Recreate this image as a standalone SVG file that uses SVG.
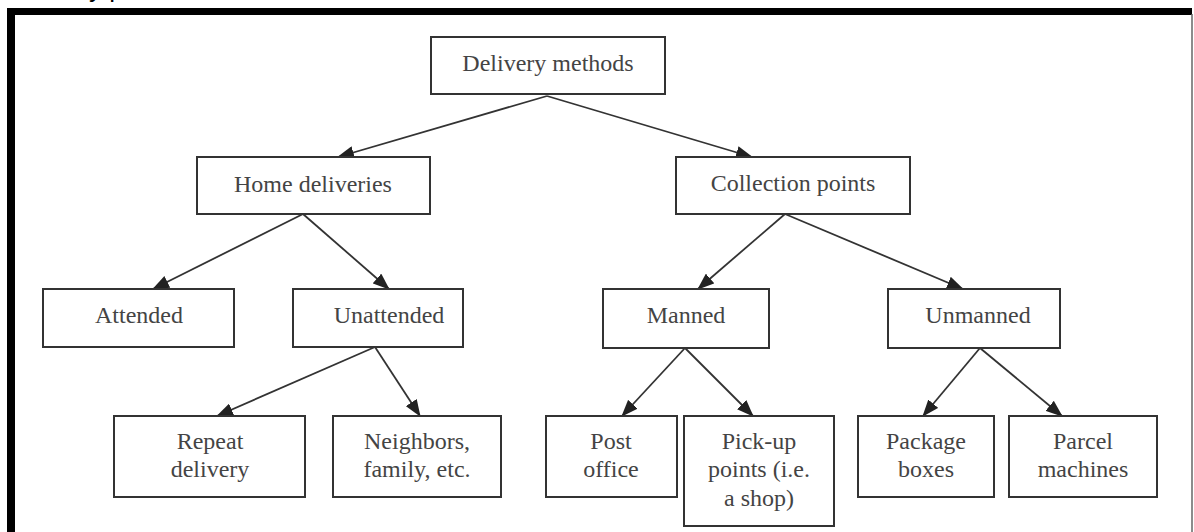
<svg xmlns="http://www.w3.org/2000/svg" width="1194" height="532" viewBox="0 0 1194 532">
<style>
.box{fill:#fff;stroke:#333;stroke-width:2}
.lbl{font-family:"Liberation Serif","Times New Roman",serif;font-size:24px;fill:#444;text-anchor:middle}
.edge{stroke:#333;stroke-width:1.8;fill:none;marker-end:url(#ah)}
.frag{font-family:"Liberation Sans",Arial,sans-serif;font-size:26px;fill:#000}
</style>
<defs>
<marker id="ah" markerWidth="17" markerHeight="13" refX="16" refY="6.5" orient="auto" markerUnits="userSpaceOnUse">
<path d="M0,0 L17,6.5 L0,13 z" fill="#222"/>
</marker>
</defs>
<rect width="1194" height="532" fill="#fff"/>
<text class="frag" x="89" y="-3">y p</text>
<g id="frame">
<line x1="7" y1="11.5" x2="1192" y2="11.5" stroke="#000" stroke-width="7"/>
<line x1="11" y1="8" x2="11" y2="532" stroke="#000" stroke-width="8"/>
<line x1="1192" y1="14" x2="1192" y2="532" stroke="#666" stroke-width="1.5"/>
</g>
<g id="connectors">
<line class="edge" x1="547" y1="96" x2="338" y2="157"/>
<line class="edge" x1="547" y1="96" x2="752" y2="157"/>
<line class="edge" x1="303" y1="214" x2="153" y2="289"/>
<line class="edge" x1="303" y1="214" x2="389" y2="289"/>
<line class="edge" x1="785" y1="214" x2="698" y2="289"/>
<line class="edge" x1="785" y1="214" x2="963" y2="289"/>
<line class="edge" x1="375" y1="347" x2="217" y2="416"/>
<line class="edge" x1="375" y1="347" x2="420" y2="416"/>
<line class="edge" x1="685" y1="348" x2="622" y2="416"/>
<line class="edge" x1="685" y1="348" x2="753" y2="416"/>
<line class="edge" x1="980" y1="348" x2="923" y2="416"/>
<line class="edge" x1="980" y1="348" x2="1062" y2="416"/>
</g>
<g id="n-delivery-methods"><rect class="box" x="431" y="37" width="234" height="57"/><text class="lbl" x="548" y="71">Delivery methods</text></g>
<g id="n-home-deliveries"><rect class="box" x="197" y="157" width="233" height="57"/><text class="lbl" x="313" y="192">Home deliveries</text></g>
<g id="n-collection-points"><rect class="box" x="676" y="157" width="234" height="57"/><text class="lbl" x="793" y="191">Collection points</text></g>
<g id="n-attended"><rect class="box" x="43" y="289" width="191" height="58"/><text class="lbl" x="139" y="323">Attended</text></g>
<g id="n-unattended"><rect class="box" x="293" y="289" width="170" height="58"/><text class="lbl" x="389" y="323">Unattended</text></g>
<g id="n-manned"><rect class="box" x="603" y="289" width="166" height="59"/><text class="lbl" x="686" y="323">Manned</text></g>
<g id="n-unmanned"><rect class="box" x="888" y="289" width="172" height="59"/><text class="lbl" x="978" y="323">Unmanned</text></g>
<g id="n-repeat"><rect class="box" x="114" y="416" width="191" height="81"/><text class="lbl" x="210" y="449">Repeat</text><text class="lbl" x="210" y="477">delivery</text></g>
<g id="n-neighbors"><rect class="box" x="333" y="416" width="168" height="81"/><text class="lbl" x="417" y="449">Neighbors,</text><text class="lbl" x="417" y="477">family, etc.</text></g>
<g id="n-post-office"><rect class="box" x="546" y="416" width="131" height="81"/><text class="lbl" x="611" y="449">Post</text><text class="lbl" x="611" y="477">office</text></g>
<g id="n-pickup"><rect class="box" x="684" y="416" width="150" height="110"/><text class="lbl" x="759" y="449">Pick-up</text><text class="lbl" x="759" y="477">points (i.e.</text><text class="lbl" x="759" y="506">a shop)</text></g>
<g id="n-package-boxes"><rect class="box" x="858" y="416" width="136" height="81"/><text class="lbl" x="926" y="449">Package</text><text class="lbl" x="926" y="477">boxes</text></g>
<g id="n-parcel-machines"><rect class="box" x="1009" y="416" width="148" height="81"/><text class="lbl" x="1083" y="449">Parcel</text><text class="lbl" x="1083" y="477">machines</text></g>
</svg>
